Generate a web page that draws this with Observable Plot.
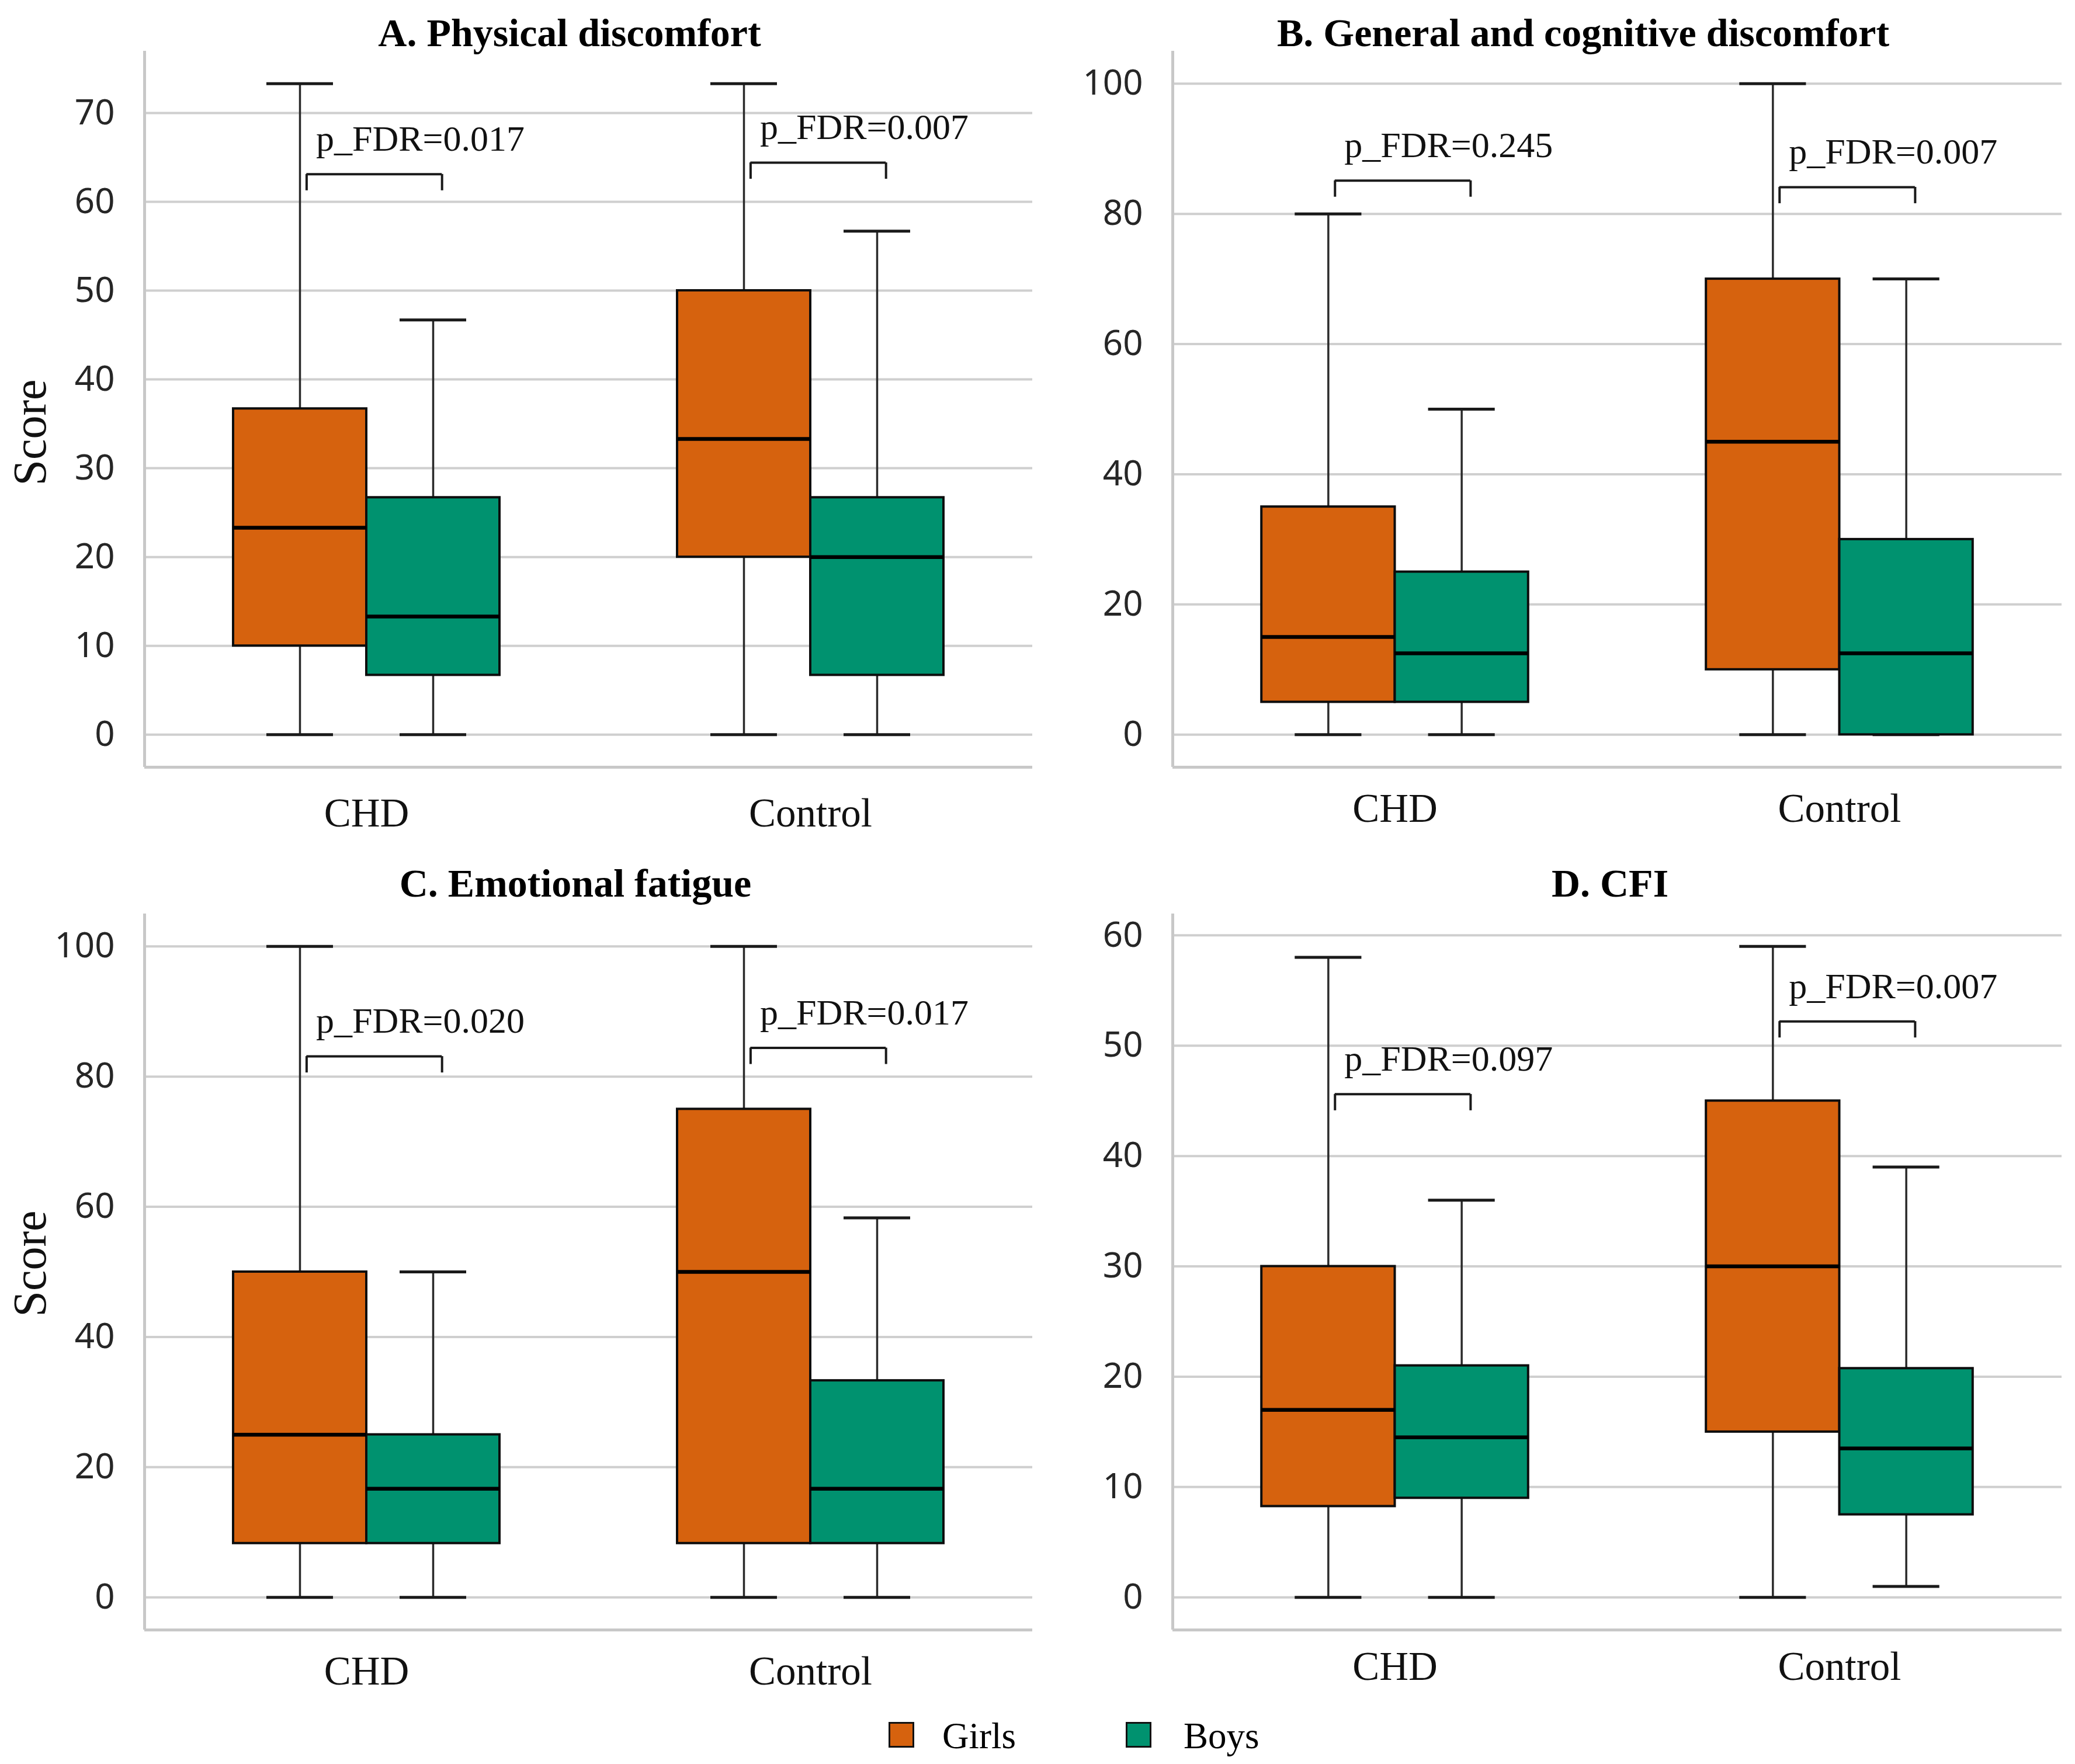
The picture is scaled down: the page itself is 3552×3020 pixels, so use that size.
<!DOCTYPE html>
<html>
<head>
<meta charset="utf-8">
<script src="https://cdn.jsdelivr.net/npm/d3@7"></script>
<script src="https://cdn.jsdelivr.net/npm/@observablehq/plot@0.6"></script>
<style>
  html, body { margin: 0; padding: 0; background: #ffffff; }
  #root { position: relative; width: 3552px; height: 3020px; background: #ffffff; overflow: hidden; }
  .panel { position: absolute; }
  .ptitle { position: absolute; transform: translate(-50%, -50%); font-family: "Liberation Serif", "Times New Roman", serif; font-weight: bold; font-size: 68px; color: #000; white-space: nowrap; }
  .sw { position: absolute; width: 38px; height: 38px; border: 3px solid #111; }
  .lt { position: absolute; font-family: "Liberation Serif", "Times New Roman", serif; font-size: 63px; color: #000; transform: translateY(-50%); white-space: nowrap; }
</style>
</head>
<body>
<div id="root"></div>
<script>
// ---------------- data ----------------
const groups = ["CHD", "Control"];
const sexes = ["Girls", "Boys"];
const sexColors = ["#D6620E", "#00926F"];

const panelTitles = [
  "A. Physical discomfort",
  "B. General and cognitive discomfort",
  "C. Emotional fatigue",
  "D. CFI"
];

// five-number summaries [min, Q1, median, Q3, max]
// order: CHD Girls, CHD Boys, Control Girls, Control Boys
const physicalDiscomfort = [
  [0, 10, 23.3, 36.7, 73.3],
  [0, 6.7, 13.3, 26.7, 46.7],
  [0, 20, 33.3, 50, 73.3],
  [0, 6.7, 20, 26.7, 56.7]
];
const generalCognitiveDiscomfort = [
  [0, 5, 15, 35, 80],
  [0, 5, 12.5, 25, 50],
  [0, 10, 45, 70, 100],
  [0, 0, 12.5, 30, 70]
];
const emotionalFatigue = [
  [0, 8.3, 25, 50, 100],
  [0, 8.3, 16.7, 25, 50],
  [0, 8.3, 50, 75, 100],
  [0, 8.3, 16.7, 33.3, 58.3]
];
const cfi = [
  [0, 8.25, 17, 30, 58],
  [0, 9, 14.5, 21, 36],
  [0, 15, 30, 45, 59],
  [1, 7.5, 13.5, 20.75, 39]
];

// p_FDR labels per group (CHD, Control)
const pFDR_A = ["0.017", "0.007"];
const pFDR_B = ["0.245", "0.007"];
const pFDR_C = ["0.020", "0.017"];
const pFDR_D = ["0.097", "0.007"];

// bracket heights (score units) per group (CHD, Control)
const bracketY_A = [63.1, 64.4];
const bracketY_B = [85.1, 84.1];
const bracketY_C = [83.1, 84.4];
const bracketY_D = [45.6, 52.2];

// y tick labels
const yTicks_A = [0, 10, 20, 30, 40, 50, 60, 70];
const yTicks_B = [0, 20, 40, 60, 80, 100];
const yTicks_C = [0, 20, 40, 60, 80, 100];
const yTicks_D = [0, 10, 20, 30, 40, 50, 60];

const yLabel = "Score";

// ---------------- layout ----------------
const W = 1776, H = 1477;
const layout = [
  {stats: physicalDiscomfort, p: pFDR_A, by: bracketY_A, ticks: yTicks_A, left: 0, top: 0, ml: 247, mr: 9, ylab: true, ydy: 40, xpad: 52, tx: 975, ty: 56},
  {stats: generalCognitiveDiscomfort, p: pFDR_B, by: bracketY_B, ticks: yTicks_B, left: 1776, top: 0, ml: 231, mr: 23, ylab: false, ydy: 0, xpad: 44, tx: 2710, ty: 56},
  {stats: emotionalFatigue, p: pFDR_C, by: bracketY_C, ticks: yTicks_C, left: 0, top: 1477, ml: 247, mr: 9, ylab: true, ydy: -14, xpad: 44, tx: 985, ty: 1512},
  {stats: cfi, p: pFDR_D, by: bracketY_D, ticks: yTicks_D, left: 1776, top: 1477, ml: 231, mr: 23, ylab: false, ydy: 0, xpad: 36, tx: 2756, ty: 1512}
];
const MT = 87, MB = 164;
const boxW = 0.3;

function makePanel(cfg) {
  const rows = cfg.stats.map((s, k) => {
    const gi = Math.floor(k / 2), si = k % 2;
    const xc = gi + 0.5 - boxW / 2 + si * boxW;
    return {group: groups[gi], sex: sexes[si], xc, x1: xc - boxW / 2, x2: xc + boxW / 2,
            c1: xc - boxW / 4, c2: xc + boxW / 4,
            min: s[0], q1: s[1], med: s[2], q3: s[3], max: s[4]};
  });
  const lo = d3.min(rows, d => d.min), hi = d3.max(rows, d => d.max);
  const pad = (hi - lo) * 0.05;
  const yDomain = [lo - pad, hi + pad];
  const frameH = H - MT - MB;
  const leg = 28 * (yDomain[1] - yDomain[0]) / frameH;
  const brackets = groups.map((g, gi) => ({
    xa: gi + 0.5 - boxW / 2 + 0.015,
    xb: gi + 0.5 + boxW / 2 + 0.02,
    y: cfg.by[gi],
    label: "p_FDR=" + cfg.p[gi]
  }));
  const legs = brackets.flatMap(b => [
    {x: b.xa, y1: b.y, y2: b.y - leg},
    {x: b.xb, y1: b.y, y2: b.y - leg}
  ]);
  const serif = "Liberation Serif, Times New Roman, serif";
  const marks = [
    Plot.gridY({ticks: cfg.ticks, stroke: "#cfcfcf", strokeOpacity: 1, strokeWidth: 4}),
    Plot.ruleX([0], {stroke: "#c8c8c8", strokeWidth: 5}),
    Plot.ruleY([yDomain[0]], {stroke: "#c8c8c8", strokeWidth: 5}),
    Plot.axisY({ticks: cfg.ticks, tickSize: 0, tickPadding: 51, fontSize: 60, fontFamily: "Noto Sans, DejaVu Sans, sans-serif", color: "#262626", label: null}),
    Plot.axisX({ticks: groups.map((g, i) => i + 0.5), tickFormat: d => groups[Math.round(d - 0.5)], tickSize: 0, tickPadding: cfg.xpad, fontSize: 69, fontFamily: serif, color: "#111", label: null}),
    // whiskers
    Plot.ruleX(rows, {x: "xc", y1: "min", y2: "max", stroke: "#2a2a2a", strokeWidth: 3.5}),
    Plot.ruleY(rows, {y: "min", x1: "c1", x2: "c2", stroke: "#1a1a1a", strokeWidth: 5}),
    Plot.ruleY(rows, {y: "max", x1: "c1", x2: "c2", stroke: "#1a1a1a", strokeWidth: 5}),
    // boxes
    Plot.rectY(rows, {x1: "x1", x2: "x2", y1: "q1", y2: "q3", fill: "sex", stroke: "#0d0d0d", strokeWidth: 4}),
    // medians
    Plot.ruleY(rows, {y: "med", x1: "x1", x2: "x2", stroke: "#000", strokeWidth: 6.5}),
    // significance brackets
    Plot.ruleY(brackets, {y: "y", x1: "xa", x2: "xb", stroke: "#1a1a1a", strokeWidth: 4}),
    Plot.ruleX(legs, {x: "x", y1: "y1", y2: "y2", stroke: "#1a1a1a", strokeWidth: 4}),
    Plot.text(brackets, {x: "xa", y: "y", text: "label", textAnchor: "start", lineAnchor: "middle", dx: 16, dy: -60, fontSize: 62, fontFamily: serif, fill: "#111"})
  ];
  if (cfg.ylab) {
    marks.push(Plot.text([yLabel], {frameAnchor: "left", rotate: -90, dx: -195, dy: cfg.ydy, fontSize: 80, fontFamily: serif, fill: "#111", textAnchor: "middle"}));
  }
  return Plot.plot({
    width: W, height: H,
    marginLeft: cfg.ml, marginRight: cfg.mr, marginTop: MT, marginBottom: MB,
    x: {domain: [0, 2]},
    y: {domain: yDomain},
    color: {domain: sexes, range: sexColors},
    style: {background: "transparent", overflow: "visible"},
    marks
  });
}

const root = document.getElementById("root");
layout.forEach((cfg, i) => {
  const wrap = document.createElement("div");
  wrap.className = "panel";
  wrap.style.left = cfg.left + "px";
  wrap.style.top = cfg.top + "px";
  wrap.appendChild(makePanel(cfg));
  root.appendChild(wrap);
  const t = document.createElement("div");
  t.className = "ptitle";
  t.style.left = cfg.tx + "px";
  t.style.top = cfg.ty + "px";
  t.textContent = panelTitles[i];
  root.appendChild(t);
});

// legend
const legendPos = [{sx: 1521, tx: 1613}, {sx: 1927, tx: 2026}];
sexes.forEach((s, i) => {
  const sw = document.createElement("div");
  sw.className = "sw";
  sw.style.left = legendPos[i].sx + "px";
  sw.style.top = "2948px";
  sw.style.background = sexColors[i];
  root.appendChild(sw);
  const lt = document.createElement("div");
  lt.className = "lt";
  lt.style.left = legendPos[i].tx + "px";
  lt.style.top = "2972px";
  lt.textContent = s;
  root.appendChild(lt);
});
</script>
</body>
</html>
